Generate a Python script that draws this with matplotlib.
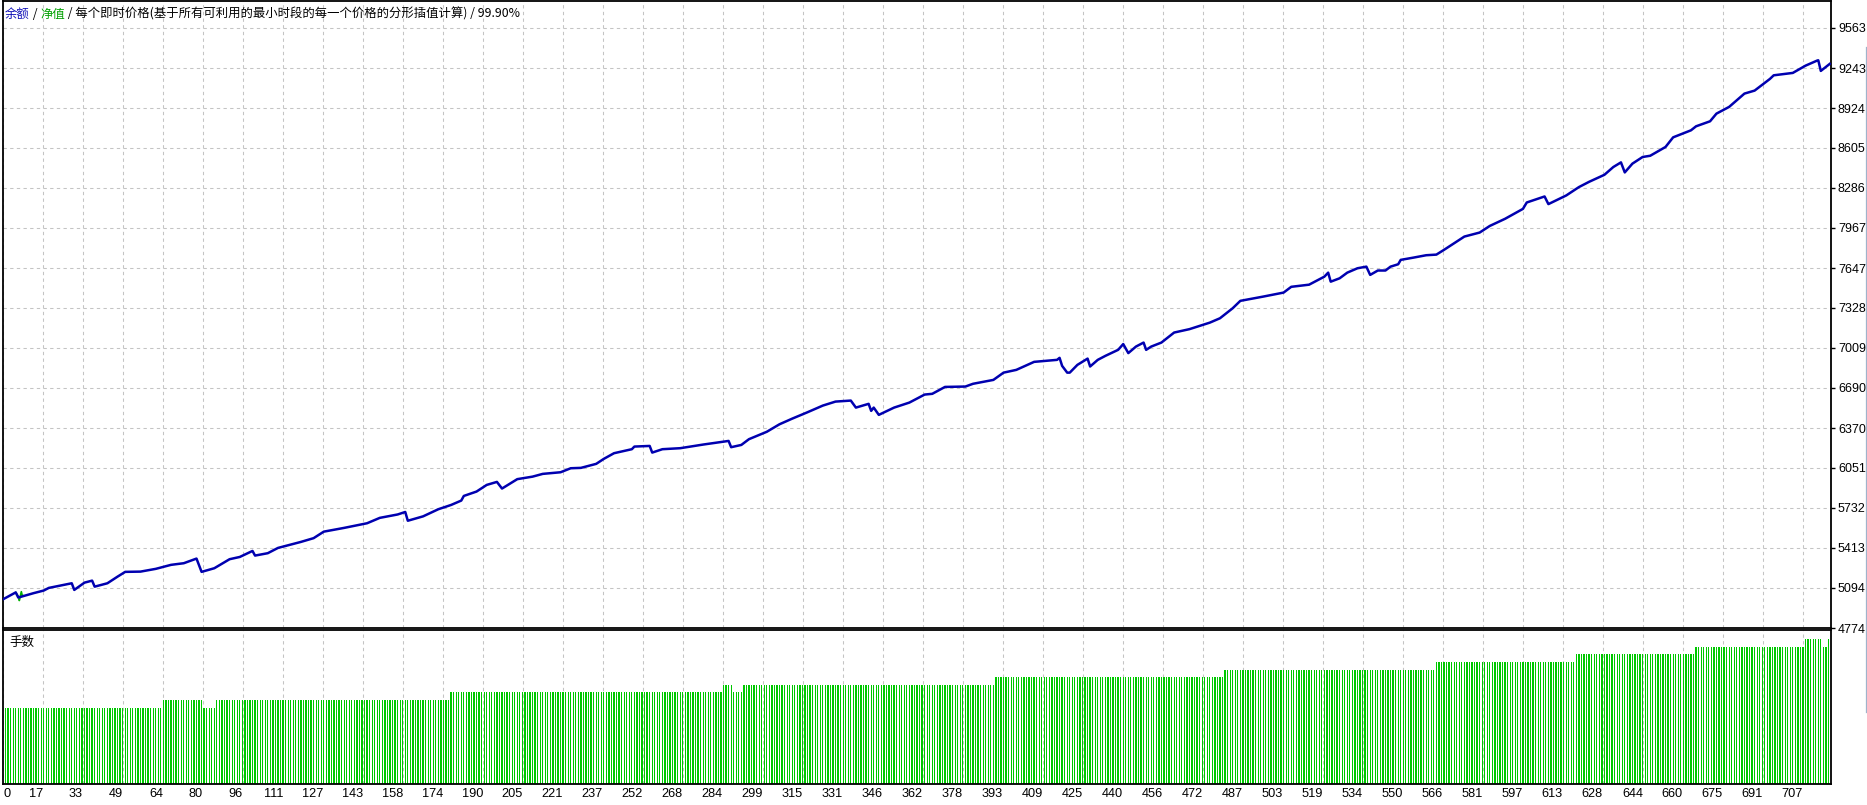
import numpy as np
import matplotlib
matplotlib.use('Agg')
import matplotlib.pyplot as plt
from matplotlib.lines import Line2D
from matplotlib.text import Annotation

# ---------------- data ----------------
balance_trade = [0, 5, 6, 12, 16, 18, 27, 28, 32, 35, 36, 41, 45, 48, 54, 60, 66, 71, 76, 78,
                 83, 89, 93, 98, 99, 104, 108, 117, 122, 126, 134, 143, 148, 155, 158, 159, 165,
                 171, 176, 180, 181, 186, 190, 194, 196, 202, 208, 212, 219, 223, 227, 233, 236,
                 240, 247, 248, 254, 255, 259, 266, 275, 285, 286, 290, 293, 300, 305,
                 310, 316, 322, 327, 333, 335, 340, 341, 342, 344, 350, 356, 362, 365, 370, 378,
                 381, 389, 393, 398, 405, 414, 415, 416, 418, 419, 422, 426, 427, 430, 433, 438,
                 440, 442, 445, 448, 449, 451, 455, 460, 466, 474, 478, 483, 486, 495, 503, 506,
                 513, 519, 520.5, 521.5, 525, 528, 532, 535.5, 537, 540, 543, 545, 548, 549, 554,
                 559, 563, 566, 570, 574, 580, 584, 590, 597, 598.5, 605.5, 607, 614, 619, 623,
                 629, 632.5, 635.5, 637, 640, 644, 647, 653, 656, 663, 665, 670.5, 673, 678, 684,
                 688, 694, 695.5, 703, 708, 712.5, 713, 714, 717.5]
balance_value = [5003, 5058, 5017, 5052, 5073, 5094, 5131, 5078, 5136, 5152, 5104, 5131, 5184, 5222,
                 5224, 5246, 5278, 5291, 5328, 5222, 5251, 5323, 5341, 5389, 5352, 5371, 5413,
                 5461, 5491, 5543, 5573, 5610, 5653, 5680, 5700, 5630, 5665,
                 5722, 5756, 5791, 5828, 5863, 5916, 5940, 5887, 5962, 5982, 6004, 6017, 6049,
                 6052, 6084, 6124, 6169, 6201, 6222, 6227, 6174, 6201, 6209, 6238, 6267, 6217,
                 6235, 6281, 6340, 6400,
                 6445, 6496, 6549, 6581, 6589, 6533, 6563, 6507, 6533, 6475, 6533, 6573, 6637,
                 6643, 6698, 6701, 6723, 6754, 6812, 6834, 6898, 6914, 6930, 6866, 6812, 6812,
                 6874, 6924, 6861, 6914, 6946, 6994, 7040, 6968, 7020, 7052, 6994, 7020, 7052,
                 7132, 7159, 7211, 7246, 7326, 7385, 7419, 7451, 7497, 7514, 7578, 7610, 7538,
                 7565, 7610, 7645, 7658, 7592, 7627, 7627, 7658, 7677, 7712, 7730, 7749, 7754,
                 7792, 7845, 7898, 7930, 7983, 8040, 8119, 8170, 8218, 8157, 8226, 8293, 8335,
                 8391, 8453, 8490, 8410, 8480, 8533, 8543, 8613, 8690, 8746, 8778, 8818, 8879,
                 8933, 9039, 9063, 9156, 9185, 9204, 9262, 9302, 9305, 9220, 9276]

equity_trade = [5, 6.3, 6.4, 7.2, 7.6, 8]
equity_value = [5058, 5017, 4993, 5064, 5030, 5032]

lot_levels = [0.10, 0.11, 0.10, 0.11, 0.12, 0.13, 0.12, 0.13, 0.14, 0.15, 0.16, 0.17, 0.18,
              0.19, 0.18, 0.19]
lot_counts = [62, 16, 5, 92, 107, 4, 4, 99, 90, 83, 55, 47, 43, 7, 2, 1]

y_ticks = [4774, 5094, 5413, 5732, 6051, 6370, 6690, 7009, 7328, 7647, 7967, 8286, 8605,
           8924, 9243, 9563]
x_tick_labels = ['0', '17', '33', '49', '64', '80', '96', '111', '127', '143', '158', '174',
                 '190', '205', '221', '237', '252', '268', '284', '299', '315', '331', '346',
                 '362', '378', '393', '409', '425', '440', '456', '472', '487', '503', '519',
                 '534', '550', '566', '581', '597', '613', '628', '644', '660', '675', '691',
                 '707']

title_parts = [('余额', '#1010b8'), (' / ', '#000000'), ('净值', '#00a000'),
               (' / 每个即时价格(基于所有可利用的最小时段的每一个价格的分形插值计算) / 99.90%', '#000000')]
lots_label = '手数'

# ---------------- layout ----------------
W, H = 1867, 805
fig = plt.figure(figsize=(W / 100, H / 100), dpi=100)
fig.patch.set_facecolor('white')


def px_rect(l, t, r, b):
    return [l / W, 1 - b / H, (r - l) / W, (b - t) / H]


ax = fig.add_axes(px_rect(3, 1, 1831, 628))
axl = fig.add_axes(px_rect(3, 630, 1831, 784))

num_font = 'Liberation Sans'
cjk = ['Noto Sans CJK SC', 'DejaVu Sans']
grid_kw = dict(color='#c4c4c4', linestyle=(0, (3.2, 3.2)), linewidth=0.75)

xmax = 718
xtick_pos = np.arange(len(x_tick_labels)) * (707 / 45)

# ---------- top panel ----------
ax.plot(equity_trade, equity_value, color='#00b000', linewidth=1.2, zorder=2)
ax.plot(balance_trade, balance_value, color='#0000b0', linewidth=1.8, zorder=3)
ax.set_xlim(0, xmax)
ax.set_ylim(4774, 9778)
ax.set_yticks(y_ticks)
ax.set_yticklabels([str(v) for v in y_ticks], fontfamily=num_font, fontsize=9)
ax.yaxis.tick_right()
ax.tick_params(axis='y', length=3, width=1, pad=2, colors='black')
ax.set_xticks(xtick_pos)
ax.tick_params(axis='x', length=0, labelbottom=False)
ax.grid(True, **grid_kw)
ax.set_axisbelow(True)
for s in ax.spines.values():
    s.set_linewidth(1.3)
    s.set_color('black')

# ---------- lots panel ----------
lots = np.repeat(lot_levels, lot_counts)
trades = np.arange(1, len(lots) + 1)
axl.bar(trades, lots, width=0.5, color='#00c800', linewidth=0, zorder=2)
axl.set_xlim(0, xmax)
axl.set_ylim(0, 0.2018)
axl.set_yticks([])
axl.set_xticks(xtick_pos)
axl.set_xticklabels(x_tick_labels, fontfamily=num_font, fontsize=9.2)
axl.tick_params(axis='x', length=0, pad=3)
for i, lbl in enumerate(axl.get_xticklabels()):
    lbl.set_ha('left' if i == 0 else 'right')
axl.grid(True, axis='x', **grid_kw)
axl.set_axisbelow(True)
for s in axl.spines.values():
    s.set_linewidth(1.3)
    s.set_color('black')
axl.text(6 / 1828, 1 - 12 / 154, lots_label, transform=axl.transAxes, fontfamily=cjk,
         fontsize=9, va='center', ha='left', color='black')

# ---------- title ----------
last = fig.text(5 / W, 1 - 21 / H, title_parts[0][0], color=title_parts[0][1],
                fontfamily=cjk, fontsize=8.9, va='bottom', ha='left')
for txt, col in title_parts[1:]:
    last = fig.add_artist(Annotation(
        txt, xy=(1, 0), xycoords=last, va='bottom', ha='left', color=col,
        fontfamily=cjk, fontsize=8.9, annotation_clip=False))

# right-side window edge
fig.add_artist(Line2D([1865.5 / W, 1865.5 / W], [1 - 47 / H, 1 - 712 / H],
                      color='#9fb3cb', linewidth=0.9))

fig.savefig('out.png', dpi=100, facecolor='white')
